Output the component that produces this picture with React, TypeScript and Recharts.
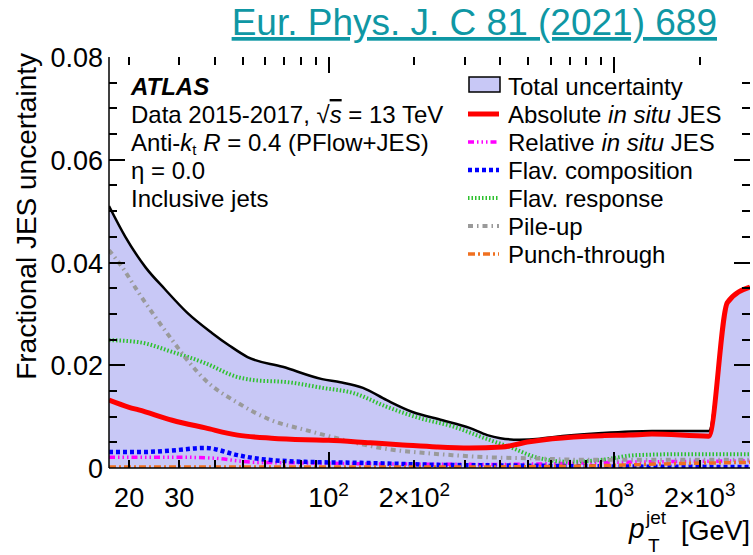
import { ComposedChart, Area, Line, XAxis, YAxis } from 'recharts';

const FONT = '"Liberation Sans", Arial, Helvetica, sans-serif';

// values (pT in GeV, fractional uncertainty)
const PT_TOTAL = [17, 19.4, 22.8, 26.8, 32, 39, 45, 52, 69, 95, 110, 132, 160, 197, 251, 312, 360, 400, 467, 550, 608, 910, 1360, 2150, 2500, 3000];
const TOTAL = [0.051, 0.045, 0.0391, 0.0347, 0.0302, 0.0263, 0.0238, 0.0216, 0.0197, 0.0173, 0.0167, 0.0156, 0.0132, 0.0109, 0.0093, 0.0078, 0.0064, 0.0058, 0.0055, 0.0057, 0.006, 0.0068, 0.0072, 0.0072, 0.0322, 0.0352];

const PT_ABS = [17, 20, 21.6, 28.3, 37, 48, 63, 83, 100, 140, 182, 239, 312, 406, 505, 608, 910, 1130, 1360, 2150, 2500, 3000];
const ABS = [0.0132, 0.0118, 0.0113, 0.0093, 0.0078, 0.0064, 0.0058, 0.0055, 0.0054, 0.0049, 0.0045, 0.0041, 0.0039, 0.0041, 0.0051, 0.0057, 0.0063, 0.0064, 0.0066, 0.0062, 0.0322, 0.0352];

const PT_REL = [17, 30, 40, 48, 55, 80, 150, 400, 1000, 3000];
const REL = [0.0021, 0.0021, 0.0019, 0.0014, 0.0011, 0.001, 0.0008, 0.0007, 0.0011, 0.0014];

const PT_COMP = [17, 22, 28, 37, 48, 55, 83, 130, 250, 400, 1000, 3000];
const COMP = [0.0031, 0.0031, 0.0034, 0.0039, 0.0025, 0.0019, 0.0012, 0.001, 0.0006, 0.0005, 0.0003, 0.0002];

const PT_RESP = [17, 21.6, 28.3, 37, 48, 55, 72, 95, 122, 160, 209, 272, 357, 440, 533, 700, 910, 1195, 1800, 3000];
const RESP = [0.0249, 0.0245, 0.0226, 0.0204, 0.0177, 0.0171, 0.0167, 0.0156, 0.0146, 0.0119, 0.0097, 0.0081, 0.0057, 0.0039, 0.0021, 0.0012, 0.0016, 0.0025, 0.0027, 0.0027];

const PT_PU = [17, 18.9, 21.6, 24.7, 28.3, 32, 37, 48, 63, 83, 97, 122, 160, 209, 272, 357, 500, 800, 3000];
const PU = [0.0424, 0.0391, 0.0341, 0.0294, 0.0249, 0.021, 0.0171, 0.0127, 0.0093, 0.0074, 0.0064, 0.005, 0.0037, 0.003, 0.0025, 0.0021, 0.0019, 0.0016, 0.0016];

const PT_PUNCH = [17, 300, 800, 1500, 3000];
const PUNCH = [0.0002, 0.0002, 0.0004, 0.0008, 0.0011];

const X_TICKS = [20, 30, 40, 50, 60, 70, 80, 90, 100, 200, 300, 400, 500, 600, 700, 800, 900, 1000, 2000];
const X_LABELS = [20, 30, 100, 200, 1000, 2000];
const Y_TICKS = [0.005, 0.01, 0.015, 0.02, 0.025, 0.03, 0.035, 0.04, 0.045, 0.05, 0.055, 0.06, 0.065, 0.07, 0.075];
const Y_LABELS = [0, 0.02, 0.04, 0.06, 0.08];

const FILL = '#c8c8f6';
const X_DOMAIN = [17, 3000];
const Y_DOMAIN = [0, 0.08];

// frame box in px: the chart margins + axis sizes below put it here
const FRAME = { left: 109, right: 750, top: 57, bottom: 468 };
const MARGIN = { top: FRAME.top, right: 753 - FRAME.right, bottom: 0, left: 0 };

// position of an axis value inside the frame, for the inward tick marks
const xPos = (v: number) =>
  FRAME.left + ((FRAME.right - FRAME.left) * Math.log10(v / X_DOMAIN[0])) / Math.log10(X_DOMAIN[1] / X_DOMAIN[0]);
const yPos = (v: number) =>
  FRAME.bottom - ((FRAME.bottom - FRAME.top) * (v - Y_DOMAIN[0])) / (Y_DOMAIN[1] - Y_DOMAIN[0]);

const SERIES = [
  { key: 'total', label: 'Total uncertainty', pt: PT_TOTAL, val: TOTAL, color: '#000', width: 2.5, dash: undefined },
  { key: 'abs', label: 'Absolute', pt: PT_ABS, val: ABS, color: '#ff0000', width: 5, dash: undefined },
  { key: 'rel', label: 'Relative', pt: PT_REL, val: REL, color: '#ff00ff', width: 3.5, dash: '6 3 1.5 3 1.5 3 1.5 3' },
  { key: 'comp', label: 'Flav. composition', pt: PT_COMP, val: COMP, color: '#0000ff', width: 4.5, dash: '4 3' },
  { key: 'resp', label: 'Flav. response', pt: PT_RESP, val: RESP, color: '#2ec12e', width: 4, dash: '1.5 2' },
  { key: 'pu', label: 'Pile-up', pt: PT_PU, val: PU, color: '#9a9a9a', width: 4, dash: '5 4 1.5 4' },
  { key: 'punch', label: 'Punch-through', pt: PT_PUNCH, val: PUNCH, color: '#f07020', width: 3.5, dash: '7 3 2 3' },
];

const allPt = Array.from(new Set(SERIES.flatMap(s => s.pt))).sort((a, b) => a - b);
const rows = allPt.map(pt => {
  const r: Record<string, number> = { pt };
  SERIES.forEach(s => {
    const i = s.pt.indexOf(pt);
    if (i >= 0) r[s.key] = s.val[i];
  });
  return r;
});

const isMajorY = (v: number) => Math.abs(v / 0.02 - Math.round(v / 0.02)) < 1e-6;
const isMajorX = (v: number) => v === 100 || v === 1000;

function YLabel(props: any) {
  const { x, y, payload } = props;
  const v = payload.value;
  return (
    <text x={Number(x) - 6} y={Number(y) + 10} textAnchor="end" fontSize={27} fontFamily={FONT} fill="#000">
      {v === 0 ? '0' : v.toFixed(2)}
    </text>
  );
}

function XLabel(props: any) {
  const { x, y, payload } = props;
  const v = payload.value;
  const exp = Math.round(Math.log10(v));
  const pre = v / Math.pow(10, exp) > 1.5 ? '2\u00d710' : '10';
  return (
    <text x={Number(x)} y={Number(y) + 39} textAnchor="middle" fontSize={27} fontFamily={FONT} fill="#000">
      {v < 100 ? v : <>{pre}<tspan dy={-11} fontSize={19}>{exp}</tspan></>}
    </text>
  );
}

// ROOT-style tick marks pointing into the frame on all four sides
function TickMarks() {
  const marks: any[] = [];
  Y_TICKS.forEach(v => {
    const y = Math.round(yPos(v)) - 1;
    const len = isMajorY(v) ? 16 : 8;
    marks.push(<rect key={`yl${v}`} x={FRAME.left} y={y} width={len} height={2} fill="#000" />);
    marks.push(<rect key={`yr${v}`} x={FRAME.right - len} y={y} width={len} height={2} fill="#000" />);
  });
  X_TICKS.forEach(v => {
    const x = Math.round(xPos(v)) - 1;
    const len = isMajorX(v) ? 16 : 8;
    marks.push(<rect key={`xb${v}`} x={x} y={FRAME.bottom - len} width={2} height={len} fill="#000" />);
    marks.push(<rect key={`xt${v}`} x={x} y={FRAME.top} width={2} height={len} fill="#000" />);
  });
  return <g>{marks}</g>;
}

function Swatch({ s, y }: { s: typeof SERIES[number]; y: number }) {
  if (s.key === 'total') {
    return <rect x={469} y={y - 18} width={31} height={15} fill={FILL} stroke="#000" strokeWidth={1.5} />;
  }
  return (
    <line x1={468} x2={499} y1={y - 9} y2={y - 9} stroke={s.color} strokeWidth={s.width} strokeDasharray={s.dash} />
  );
}

function LegendText({ s }: { s: typeof SERIES[number] }) {
  if (s.key === 'abs') return <>Absolute <tspan fontStyle="italic">in situ</tspan> JES</>;
  if (s.key === 'rel') return <>Relative <tspan fontStyle="italic">in situ</tspan> JES</>;
  return <>{s.label}</>;
}

const common = { type: 'number' as const, allowDataOverflow: true, interval: 0, tickLine: false, tickSize: 0, tickMargin: 0 };
const axisLine = { stroke: '#000', strokeWidth: 1.5 };
const layer = { position: 'absolute' as const, left: 0, top: 0 };

export default function App() {
  return (
    <div style={{ position: 'absolute', left: 0, top: 0, width: 753, height: 555, background: '#fff' }}>
      <ComposedChart width={753} height={555} data={rows} margin={MARGIN}>
        <XAxis {...common} dataKey="pt" scale="log" domain={X_DOMAIN} ticks={X_LABELS}
          height={555 - FRAME.bottom} axisLine={axisLine} tick={<XLabel />} />
        <XAxis {...common} xAxisId="top" orientation="top" scale="log" domain={X_DOMAIN} ticks={[]} height={0}
          axisLine={axisLine} tick={false} />
        <YAxis {...common} domain={Y_DOMAIN} ticks={Y_LABELS} width={FRAME.left}
          axisLine={axisLine} tick={<YLabel />} />
        <YAxis {...common} yAxisId="right" orientation="right" domain={Y_DOMAIN} ticks={[]} width={0}
          axisLine={axisLine} tick={false} />

        <Area
          dataKey="total" type="monotone" connectNulls baseValue={0}
          fill={FILL} fillOpacity={1} stroke="#000" strokeWidth={2.5} isAnimationActive={false}
        />
        {SERIES.filter(s => s.key !== 'total' && s.key !== 'abs').map(s => (
          <Line
            key={s.key} dataKey={s.key} type="monotone" connectNulls dot={false}
            stroke={s.color} strokeWidth={s.width} strokeDasharray={s.dash} isAnimationActive={false}
          />
        ))}
        <Line
          dataKey="abs" type="monotone" connectNulls dot={false}
          stroke="#ff0000" strokeWidth={5} isAnimationActive={false}
        />
      </ComposedChart>

      <svg width={753} height={555} style={{ ...layer, pointerEvents: 'none' }} fontFamily={FONT}>
        <TickMarks />

        {/* journal reference */}
        <text x={717} y={35} textAnchor="end" fontSize={37} fill="#0f97a4" style={{ textDecoration: 'underline' }}>
          Eur. Phys. J. C 81 (2021) 689
        </text>

        {/* ATLAS label */}
        <g fontSize={24} fill="#000">
          <text x={131} y={95} fontWeight="bold" fontStyle="italic">ATLAS</text>
          <text x={131} y={123}>
            Data 2015-2017, {'\u221a'}<tspan fontStyle="italic" style={{ textDecoration: 'overline' }}>s</tspan> = 13 TeV
          </text>
          <text x={131} y={151}>
            Anti-<tspan fontStyle="italic">k</tspan><tspan dy={4} fontSize={15}>t</tspan>
            <tspan dy={-4}> </tspan><tspan fontStyle="italic">R</tspan> = 0.4 (PFlow+JES)
          </text>
          <text x={131} y={179}>{'\u03b7'} = 0.0</text>
          <text x={131} y={207}>Inclusive jets</text>
        </g>

        {/* legend */}
        <g fontSize={24} fill="#000">
          {SERIES.map((s, i) => {
            const y = 95 + i * 28;
            return (
              <g key={s.key}>
                <Swatch s={s} y={y} />
                <text x={508} y={y}><LegendText s={s} /></text>
              </g>
            );
          })}
        </g>

        {/* axis titles */}
        <text x={36} y={53} textAnchor="end" fontSize={28} transform="rotate(-90 36 53)">
          Fractional JES uncertainty
        </text>
        <text x={629} y={538} fontSize={28} fontStyle="italic">p</text>
        <text x={646} y={524} fontSize={19}>jet</text>
        <text x={648} y={552} fontSize={19}>T</text>
        <text x={750} y={540} textAnchor="end" fontSize={27}>[GeV]</text>
      </svg>
    </div>
  );
}
